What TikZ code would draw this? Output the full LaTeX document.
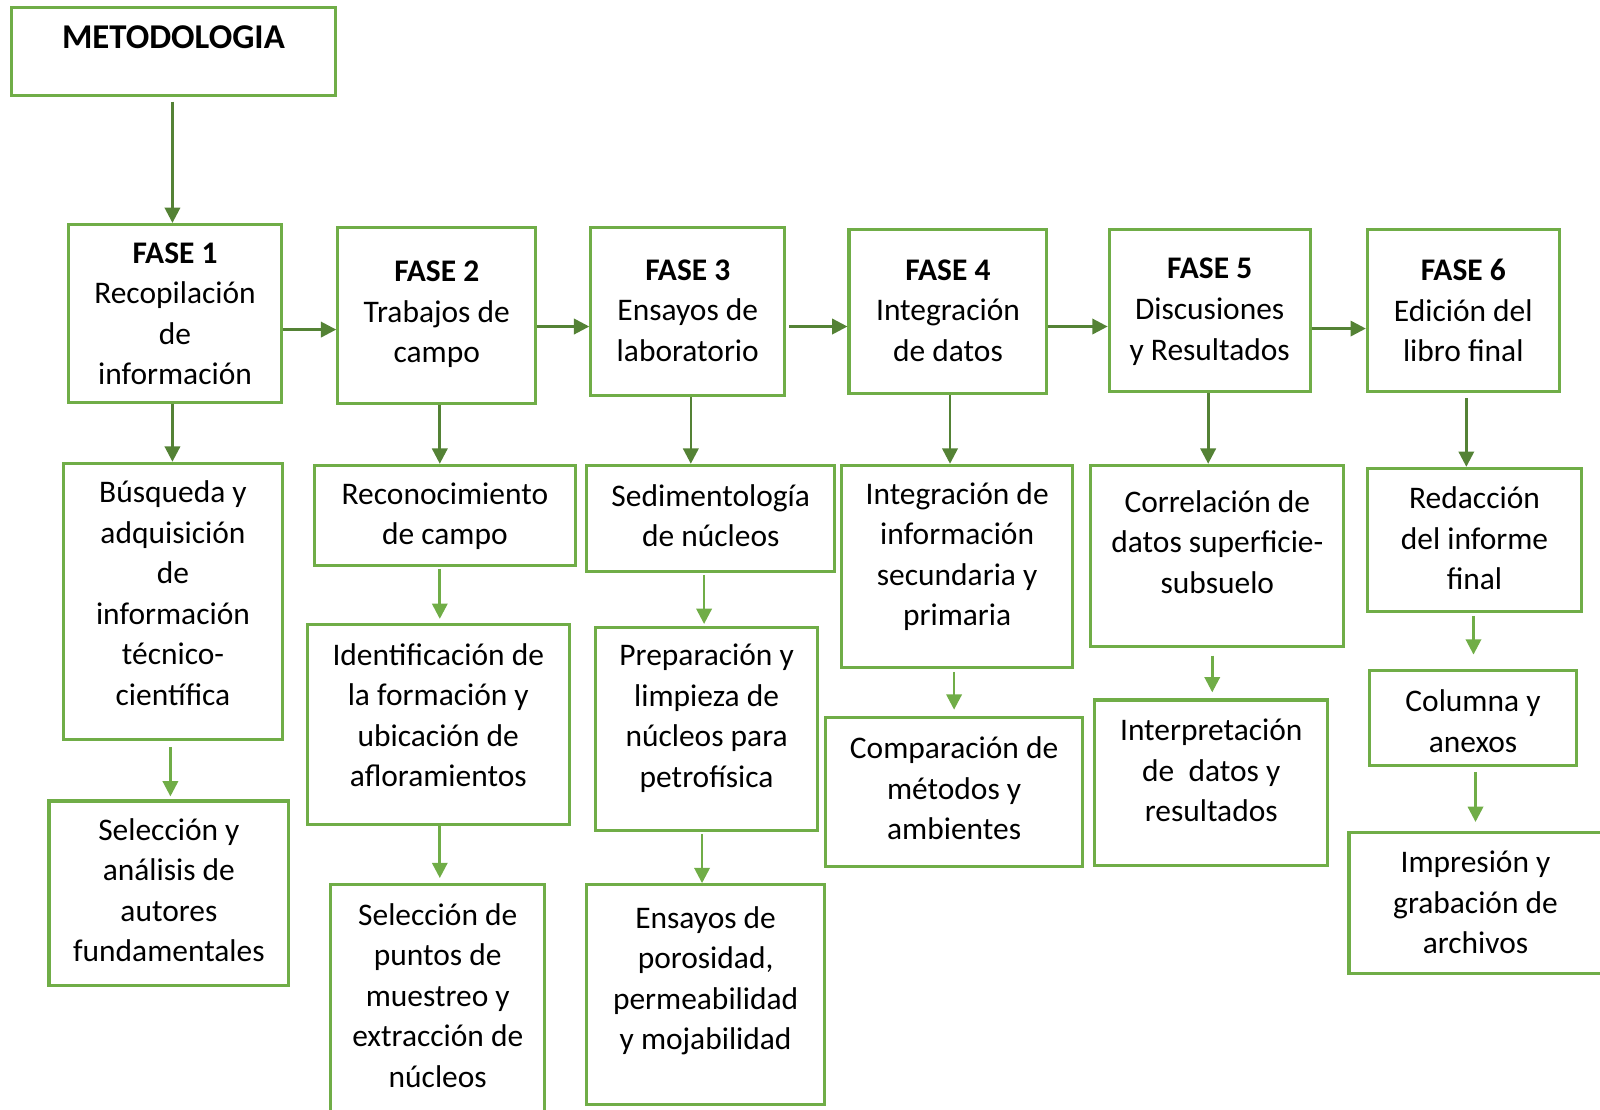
\documentclass[tikz,border=0pt]{standalone}
\usepackage{fontspec}
\setmainfont{Carlito}
\usetikzlibrary{arrows.meta}
\definecolor{boxc}{HTML}{70AD47}
\definecolor{darkc}{HTML}{548235}
\definecolor{lightc}{HTML}{70AD47}
\def\u{0.010204cm}
\tikzset{
  box/.style n args={4}{draw=boxc, line width=3*\u, inner sep=0pt,
    minimum width={(#3-#1)*\u}, minimum height={(#4-#2)*\u},
    at={({(#1+#3)/2},{(#2+#4)/2})}},
  txt/.style={align=center, inner sep=0pt, font=\fontsize{8.95pt}{11.53pt}\selectfont, text=black},
  arD/.style={draw=darkc, line width=2.6*\u, -{Triangle[length=15*\u, width=15*\u]}},
  arL/.style={draw=lightc, line width=2.6*\u, -{Triangle[length=15*\u, width=15*\u]}},
}
\begin{document}
\begin{tikzpicture}[x=\u, y=-\u]
\useasboundingbox (0,0) rectangle (1568,1087);
% level 0
\node[box={11}{7}{329}{94}, label={[txt, yshift=14.5*\u]center:{\fontsize{9.9pt}{11.53pt}\selectfont\bfseries METODOLOGIA}}] (met) {};
% phases
\node[box={67}{220}{276}{394}, label={[txt, yshift=-0.5*\u]center:{\bfseries FASE 1\\Recopilación\\de\\información}}] (f1) {};
\node[box={331}{223}{525}{395}, label={[txt, yshift=1*\u]center:{\bfseries FASE 2\\Trabajos de\\campo}}] (f2) {};
\node[box={579}{223}{769}{388}, label={[txt, yshift=1*\u]center:{\bfseries FASE 3\\Ensayos de\\laboratorio}}] (f3) {};
\node[box={832}{225}{1026}{386}, label={[txt, yshift=1*\u]center:{\bfseries FASE 4\\Integración\\de datos}}] (f4) {};
\node[box={1087}{225}{1284}{384}, label={[txt, yshift=-1*\u]center:{\bfseries FASE 5\\Discusiones\\y Resultados}}] (f5) {};
\node[box={1340}{225}{1528}{384}, label={[txt, yshift=0*\u]center:{\bfseries FASE 6\\Edición del\\libro final}}] (f6) {};
% column 1
\node[box={62}{454}{277}{725}, label={[txt, yshift=8*\u]center:{Búsqueda y\\adquisición\\de\\información\\técnico-\\científica}}] (b1) {};
\node[box={48}{785}{283}{966}, label={[txt, yshift=3*\u]center:{Selección y\\análisis de\\autores\\fundamentales}}] (b2) {};
% column 2
\node[box={308}{456}{564}{554}, label={[txt, yshift=-1*\u]center:{Reconocimiento\\de campo}}] (c1) {};
\node[box={301}{612}{558}{808}, label={[txt, yshift=9*\u]center:{Identificación de\\la formación y\\ubicación de\\afloramientos}}] (c2) {};
\node[box={324}{867}{534}{1100}, label={[txt, yshift=8*\u]center:{Selección de\\puntos de\\muestreo y\\extracción de\\núcleos}}] (c3) {};
% column 3
\node[box={575}{456}{818}{560}, label={[txt, yshift=2.5*\u]center:{Sedimentología\\de núcleos}}] (d1) {};
\node[box={584}{615}{801}{814}, label={[txt, yshift=10.5*\u]center:{Preparación y\\limpieza de\\núcleos para\\petrofísica}}] (d2) {};
\node[box={575}{867}{808}{1082}, label={[txt, yshift=13.5*\u]center:{Ensayos de\\porosidad,\\permeabilidad\\y mojabilidad}}] (d3) {};
% column 4
\node[box={825}{456}{1051}{654}, label={[txt, yshift=9.5*\u]center:{Integración de\\información\\secundaria y\\primaria}}] (e1) {};
\node[box={809}{703}{1061}{849}, label={[txt, yshift=3.5*\u]center:{Comparación de\\métodos y\\ambientes}}] (e2) {};
% column 5
\node[box={1069}{456}{1317}{634}, label={[txt, yshift=14*\u]center:{Correlación de\\datos superficie-\\subsuelo}}] (g1) {};
\node[box={1073}{686}{1301}{848}, label={[txt, yshift=12*\u]center:{Interpretación\\de~ datos y\\resultados}}] (g2) {};
% column 6
\node[box={1340}{459}{1550}{599}, label={[txt, yshift=1.5*\u]center:{Redacción\\del informe\\final}}] (h1) {};
\node[box={1342}{657}{1545}{750}, label={[txt, yshift=-3.5*\u]center:{Columna y\\anexos}}] (h2) {};
\node[box={1322}{816}{1572}{954}, label={[txt, xshift=-1*\u, yshift=0.5*\u]center:{Impresión y\\grabación de\\archivos}}] (h3) {};
% arrows: main chain
\draw[arD] ([xshift=-1*\u, yshift=-4*\u]met.south) -- ([xshift=-2.5*\u]f1.north);
\draw[arD] ([yshift=-16*\u]f1.east) -- ([yshift=-14*\u]f2.west);
\draw[arD] ([yshift=-11*\u]f2.east) -- ([yshift=-14.5*\u]f3.west);
\draw[arD] ([xshift=3*\u, yshift=-14.5*\u]f3.east) -- ([yshift=-14.5*\u]f4.west);
\draw[arD] ([yshift=-14.5*\u]f4.east) -- ([yshift=-15.5*\u]f5.west);
\draw[arD] ([yshift=-17.5*\u]f5.east) -- ([yshift=-17.5*\u]f6.west);
% arrows: phase to first task
\draw[arD] ([xshift=-2.5*\u]f1.south) -- ([xshift=-0.5*\u]b1.north);
\draw[arD] ([xshift=3*\u]f2.south) -- ([xshift=-5*\u]c1.north);
\draw[arD] ([xshift=3*\u]f3.south) -- ([xshift=-19.5*\u]d1.north);
\draw[arD] ([xshift=2*\u]f4.south) -- ([xshift=-7*\u]e1.north);
\draw[arD] ([xshift=-1.5*\u]f5.south) -- ([xshift=-9*\u]g1.north);
\draw[arD] ([xshift=3*\u, yshift=-5*\u]f6.south) -- ([xshift=-8*\u]h1.north);
% arrows: following tasks
\draw[arL] ([xshift=-2.5*\u, yshift=-6*\u]b1.south) -- ([xshift=1.5*\u, yshift=3*\u]b2.north);
\draw[arL] ([xshift=-5*\u, yshift=-2*\u]c1.south) -- ([xshift=1.5*\u, yshift=4*\u]c2.north);
\draw[arL] ([xshift=1.5*\u]c2.south) -- ([xshift=2*\u, yshift=5*\u]c3.north);
\draw[arL] ([xshift=-6.5*\u, yshift=-2*\u]d1.south) -- ([xshift=-2.5*\u, yshift=2*\u]d2.north);
\draw[arL] ([xshift=-4.5*\u, yshift=-2*\u]d2.south) -- ([xshift=-3.5*\u]d3.north);
\draw[arL] ([xshift=-3*\u, yshift=-3*\u]e1.south) -- ([yshift=6*\u]e2.north);
\draw[arL] ([xshift=-5*\u, yshift=-7*\u]g1.south) -- ([xshift=1*\u, yshift=6*\u]g2.north);
\draw[arL] ([xshift=-1*\u, yshift=-3*\u]h1.south) -- ([xshift=0.5*\u, yshift=14*\u]h2.north);
\draw[arL] ([xshift=2.5*\u, yshift=-5*\u]h2.south) -- ([xshift=-1*\u, yshift=9*\u]h3.north);
\end{tikzpicture}
\end{document}
